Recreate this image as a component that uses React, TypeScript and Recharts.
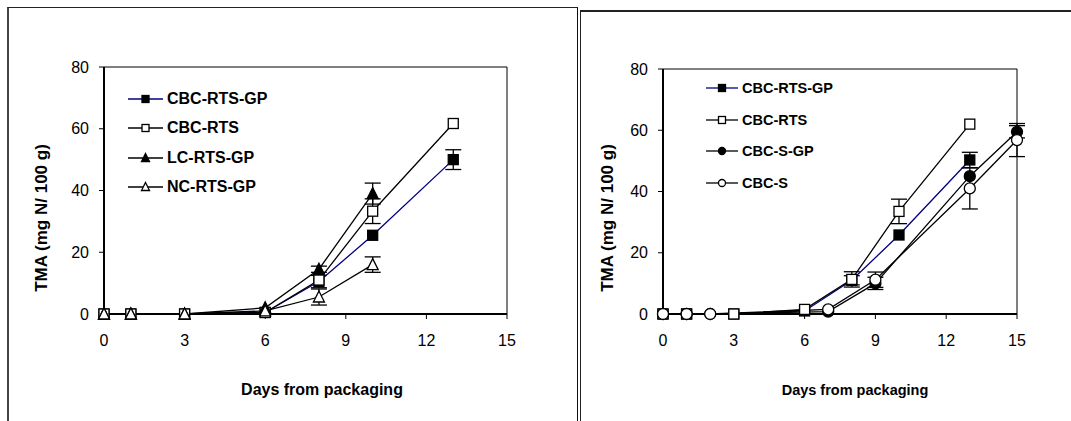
import { LineChart, Line, XAxis, YAxis, ErrorBar, ReferenceLine } from "recharts";

// left panel: days sampled
const DAYS_7 = [0, 1, 3, 6, 8, 10, 13];
const DAYS_6 = [0, 1, 3, 6, 8, 10];
// right panel: salted samples
const DAYS_S = [0, 1, 2, 7, 9, 13, 15];

const X_TICKS = [0, 3, 6, 9, 12, 15];
const Y_TICKS = [0, 20, 40, 60, 80];

const L_CBC_RTS_GP = [0, 0, 0, 0.5, 10.5, 25.5, 50];
const L_CBC_RTS_GP_ERR = [0, 0, 0, 0, 2, 0, 3.2];
const L_CBC_RTS = [0, 0, 0, 0.5, 11, 33.3, 61.7];
const L_CBC_RTS_ERR = [0, 0, 0, 0, 0, 4, 0];
const L_LC_RTS_GP = [0, 0, 0, 2, 14.5, 39];
const L_LC_RTS_GP_ERR = [0, 0, 0, 0, 1, 3.4];
const L_NC_RTS_GP = [0, 0, 0, 1, 5.5, 16];
const L_NC_RTS_GP_ERR = [0, 0, 0, 0, 2.6, 2.5];

const R_CBC_RTS_GP = [0, 0, 0, 1, 11, 25.8, 50.3];
const R_CBC_RTS_GP_ERR = [0, 0, 0, 0, 1.5, 0, 2.5];
const R_CBC_RTS = [0, 0, 0, 1.5, 11.3, 33.5, 62];
const R_CBC_RTS_ERR = [0, 0, 0, 0, 2.5, 4, 0];
const R_CBC_S_GP = [0, 0, 0, 0.8, 10, 45, 59.5];
const R_CBC_S_GP_ERR = [0, 0, 0, 0, 2, 0, 2];
const R_CBC_S = [0, 0, 0, 1.5, 11.2, 41, 56.8];
const R_CBC_S_ERR = [0, 0, 0, 0, 2.5, 6.7, 5.4];

const FONT = '"Liberation Sans", Arial, sans-serif';

type Shape = "square" | "triangle" | "circle";

const toRows = (days: number[], vals: number[], errs: number[]) =>
  days.map((d, i) => ({ day: d, v: vals[i], err: errs[i] }));

interface Series {
  name: string;
  shape: Shape;
  filled: boolean;
  color: string;
  rows: { day: number; v: number; err: number }[];
}

const LEFT: Series[] = [
  { name: "CBC-RTS-GP", shape: "square", filled: true, color: "#000080", rows: toRows(DAYS_7, L_CBC_RTS_GP, L_CBC_RTS_GP_ERR) },
  { name: "CBC-RTS", shape: "square", filled: false, color: "#000", rows: toRows(DAYS_7, L_CBC_RTS, L_CBC_RTS_ERR) },
  { name: "LC-RTS-GP", shape: "triangle", filled: true, color: "#000", rows: toRows(DAYS_6, L_LC_RTS_GP, L_LC_RTS_GP_ERR) },
  { name: "NC-RTS-GP", shape: "triangle", filled: false, color: "#000", rows: toRows(DAYS_6, L_NC_RTS_GP, L_NC_RTS_GP_ERR) },
];

const RIGHT: Series[] = [
  { name: "CBC-RTS-GP", shape: "square", filled: true, color: "#000080", rows: toRows(DAYS_7, R_CBC_RTS_GP, R_CBC_RTS_GP_ERR) },
  { name: "CBC-RTS", shape: "square", filled: false, color: "#000", rows: toRows(DAYS_7, R_CBC_RTS, R_CBC_RTS_ERR) },
  { name: "CBC-S-GP", shape: "circle", filled: true, color: "#000", rows: toRows(DAYS_S, R_CBC_S_GP, R_CBC_S_GP_ERR) },
  { name: "CBC-S", shape: "circle", filled: false, color: "#000", rows: toRows(DAYS_S, R_CBC_S, R_CBC_S_ERR) },
];

function Marker({ cx, cy, shape, filled, size }: { cx: number; cy: number; shape: Shape; filled: boolean; size: number }) {
  const fill = filled ? "#000" : "#fff";
  const h = size / 2;
  if (shape === "square")
    return <rect x={cx - h} y={cy - h} width={size} height={size} fill={fill} stroke="#000" strokeWidth={1.3} />;
  if (shape === "triangle")
    return (
      <polygon
        points={`${cx},${cy - h - 1} ${cx + h + 0.5},${cy + h} ${cx - h - 0.5},${cy + h}`}
        fill={fill}
        stroke="#000"
        strokeWidth={1.3}
      />
    );
  return <circle cx={cx} cy={cy} r={h} fill={fill} stroke="#000" strokeWidth={1.3} />;
}

function LegendBox({ series, left, top, gap, lineW, fontSize }: { series: Series[]; left: number; top: number; gap: number; lineW: number; fontSize: number }) {
  return (
    <div style={{ position: "absolute", left, top, fontFamily: FONT }}>
      {series.map((s, i) => (
        <div key={s.name} style={{ position: "absolute", top: i * gap - 9, left: 0, display: "flex", alignItems: "center", whiteSpace: "nowrap", height: 18 }}>
          <svg width={lineW} height={12}>
            <line x1={0} y1={6} x2={lineW} y2={6} stroke={s.color} strokeWidth={1.3} />
            <Marker cx={lineW / 2} cy={6} shape={s.shape} filled={s.filled} size={7} />
          </svg>
          <span style={{ marginLeft: 4, fontWeight: "bold", fontSize, color: "#000" }}>{s.name}</span>
        </div>
      ))}
    </div>
  );
}

function Panel({
  series, left, width, plotLeft, plotRight, plotTop, titleX, titleY, xTitleX, xTitleSize, legendLeft, legendTop, legendGap, legendLineW, legendSize,
}: {
  series: Series[]; left: number; width: number; plotLeft: number; plotRight: number; plotTop: number;
  titleX: number; titleY: number; xTitleX: number; xTitleSize: number; legendLeft: number; legendTop: number; legendGap: number;
  legendLineW: number; legendSize: number;
}) {
  const H = 421;
  const plotBottom = 314;
  const yAxisW = 60;
  const xAxisH = 30;
  return (
    <div style={{ position: "absolute", left, top: 0, width, height: H }}>
      <LineChart
        width={width}
        height={H}
        margin={{ top: plotTop, right: width - plotRight, left: plotLeft - yAxisW, bottom: H - plotBottom - xAxisH }}
      >
        <XAxis
          type="number"
          dataKey="day"
          domain={[0, 15]}
          ticks={X_TICKS}
          height={xAxisH}
          axisLine={{ stroke: "#000", strokeWidth: 2 }}
          tickLine={{ stroke: "#000", strokeWidth: 1 }}
          tickSize={5}
          tickMargin={16}
          tick={{ fill: "#000", fontSize: 16, fontFamily: FONT }}
        />
        <YAxis
          type="number"
          domain={[0, 80]}
          ticks={Y_TICKS}
          width={yAxisW}
          axisLine={{ stroke: "#000", strokeWidth: 2 }}
          tickLine={{ stroke: "#000", strokeWidth: 1 }}
          tickSize={5}
          tickMargin={10}
          tick={{ fill: "#000", fontSize: 16, fontFamily: FONT }}
        />
        <ReferenceLine y={80} stroke="#000" strokeWidth={1} />
        <ReferenceLine x={15} stroke="#000" strokeWidth={1} />
        {series.map((s) => (
          <Line
            key={s.name}
            data={s.rows}
            dataKey="v"
            name={s.name}
            stroke={s.color}
            strokeWidth={1.3}
            isAnimationActive={false}
            dot={(p: any) => (
              <Marker key={`${s.name}-${p.index}`} cx={p.cx} cy={p.cy} shape={s.shape} filled={s.filled} size={s.shape === "circle" ? 11 : 10} />
            )}
            activeDot={false}
          >
            <ErrorBar dataKey="err" direction="y" width={8} stroke="#000" strokeWidth={1.3} />
          </Line>
        ))}
      </LineChart>
      <div
        style={{
          position: "absolute", left: titleX, top: titleY, transform: "translate(-50%, -50%) rotate(-90deg)",
          fontFamily: FONT, fontWeight: "bold", fontSize: 17, whiteSpace: "nowrap", color: "#000",
        }}
      >
        TMA (mg N/ 100 g)
      </div>
      <div
        style={{
          position: "absolute", left: xTitleX, top: 390, transform: "translate(-50%, -50%)",
          fontFamily: FONT, fontWeight: "bold", fontSize: xTitleSize, whiteSpace: "nowrap", color: "#000",
        }}
      >
        Days from packaging
      </div>
      <LegendBox series={series} left={legendLeft} top={legendTop} gap={legendGap} lineW={legendLineW} fontSize={legendSize} />
    </div>
  );
}

export default function App() {
  return (
    <div style={{ position: "absolute", left: 0, top: 0, width: 1071, height: 421, overflow: "hidden", background: "#fff" }}>
      <div style={{ position: "absolute", left: 7, top: 7, width: 568, height: 440, borderLeft: "2px solid #444", borderTop: "1.5px solid #222", borderRight: "1.5px solid #111" }} />
      <div style={{ position: "absolute", left: 580, top: 10, width: 600, height: 440, borderLeft: "1.5px solid #222", borderTop: "2px solid #222" }} />
      <Panel
        series={LEFT}
        left={0}
        width={540}
        plotLeft={104}
        plotRight={507}
        plotTop={67}
        titleX={42}
        titleY={218}
        xTitleX={322}
        xTitleSize={16}
        legendLeft={128}
        legendTop={99}
        legendGap={29.3}
        legendLineW={35}
        legendSize={16}
      />
      <Panel
        series={RIGHT}
        left={540}
        width={531}
        plotLeft={123}
        plotRight={477}
        plotTop={69}
        titleX={68}
        titleY={218}
        xTitleX={315}
        xTitleSize={14.5}
        legendLeft={166}
        legendTop={88}
        legendGap={31.7}
        legendLineW={32}
        legendSize={14.5}
      />
    </div>
  );
}
